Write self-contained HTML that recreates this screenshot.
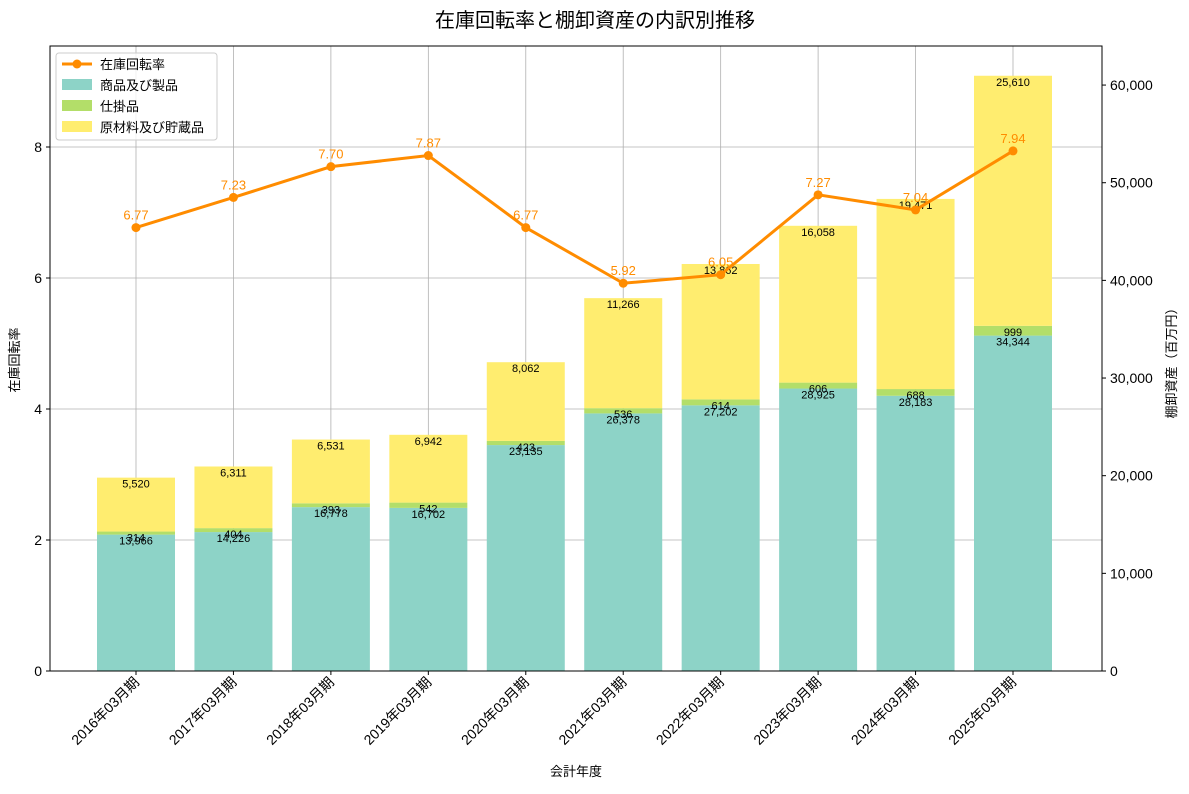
<!DOCTYPE html>
<html><head><meta charset="utf-8">
<style>
body{margin:0;background:#fff;}
svg text{font-family:"Liberation Sans","Noto Sans CJK JP",sans-serif;}
</style></head>
<body>
<svg id="chart" width="1189" height="789" xmlns="http://www.w3.org/2000/svg">
<text x="595" y="27" text-anchor="middle" font-size="20">在庫回転率と棚卸資産の内訳別推移</text>
<g id="grid"></g>
<g id="bars"></g>
<g id="line"></g>
<g id="axes"></g>
<text transform="translate(19,360) rotate(-90)" text-anchor="middle" font-size="13">在庫回転率</text>
<text transform="translate(1176,360) rotate(-90)" text-anchor="middle" font-size="13">棚卸資産（百万円）</text>
<text x="576" y="776" text-anchor="middle" font-size="13">会計年度</text>
<g>
<rect x="56" y="53" width="161" height="87" fill="#fff" fill-opacity="0.8" stroke="#ccc" rx="3"/>
<line x1="62" y1="64" x2="92" y2="64" stroke="#ff8c00" stroke-width="3"/>
<circle cx="77" cy="64" r="4.5" fill="#ff8c00"/>
<text x="100" y="69" font-size="13">在庫回転率</text>
<rect x="62" y="79" width="30" height="11" fill="#8dd3c7"/>
<text x="100" y="90" font-size="13">商品及び製品</text>
<rect x="62" y="100" width="30" height="11" fill="#b3de69"/>
<text x="100" y="111" font-size="13">仕掛品</text>
<rect x="62" y="121" width="30" height="11" fill="#ffed6f"/>
<text x="100" y="132" font-size="13">原材料及び貯蔵品</text>
</g>
</svg>
<script>
const categories=["2016年03月期","2017年03月期","2018年03月期","2019年03月期","2020年03月期","2021年03月期","2022年03月期","2023年03月期","2024年03月期","2025年03月期"];
const products=[13966,14226,16778,16702,23135,26378,27202,28925,28183,34344];
const wip=[314,404,393,542,423,536,614,606,688,999];
const rawMaterials=[5520,6311,6531,6942,8062,11266,13862,16058,19471,25610];
const turnover=[6.77,7.23,7.70,7.87,6.77,5.92,6.05,7.27,7.04,7.94];
const leftTicks=[0,2,4,6,8];
const rightTicks=[0,10000,20000,30000,40000,50000,60000];

const L=50,R=1102,T=46,B=671;
const NS="http://www.w3.org/2000/svg";
const yL=v=>B-(v/9.542)*(B-T);
const yR=v=>B-(v/64000)*(B-T);
const step=(1013-136)/9;
const xC=i=>136+i*step;
const bw=78;
function mk(tag,attrs,parent,text){const e=document.createElementNS(NS,tag);for(const k in attrs)e.setAttribute(k,attrs[k]);if(text!==undefined)e.textContent=text;parent.appendChild(e);return e;}
const fmt=v=>v.toLocaleString('en-US');
const grid=document.getElementById('grid'),bars=document.getElementById('bars'),line=document.getElementById('line'),axes=document.getElementById('axes');

leftTicks.forEach(v=>{
 const g=mk('line',{x1:L,x2:R,y1:yL(v),y2:yL(v),stroke:'#b0b0b0','stroke-width':0.8},grid);
 
 
 mk('line',{x1:L-4,x2:L,y1:yL(v),y2:yL(v),stroke:'#000'},axes);
 const t=mk('text',{x:L-8,y:yL(v)+5,'text-anchor':'end','font-size':14},axes,String(v));
 
 
});
rightTicks.forEach(v=>{
 mk('line',{x1:R,x2:R+4,y1:yR(v),y2:yR(v),stroke:'#000'},axes);
 const t=mk('text',{x:R+8,y:yR(v)+5,'font-size':14},axes,fmt(v));
 
 
});
categories.forEach((c,i)=>{
 const x=xC(i);
 const p=products[i],w=wip[i],r=rawMaterials[i];
 const segs=[[0,p,'#8dd3c7','bar-products'],[p,p+w,'#b3de69','bar-wip'],[p+w,p+w+r,'#ffed6f','bar-raw-materials']];
 segs.forEach(s=>{
  const b=mk('rect',{x:x-bw/2,y:yR(s[1]),width:bw,height:yR(s[0])-yR(s[1]),fill:s[2]},bars);
  
  
 });
 [[p,p],[p+w,w],[p+w+r,r]].forEach(s=>{
  const t=mk('text',{x:x,y:yR(s[0])+10,'text-anchor':'middle','font-size':11},bars,fmt(s[1]));
  
  
 });
 const g=mk('line',{x1:x,x2:x,y1:T,y2:B,stroke:'#b0b0b0','stroke-width':0.8},grid);
 
 
 mk('line',{x1:x,x2:x,y1:B,y2:B+4,stroke:'#000'},axes);
 const t=mk('text',{transform:`translate(${x+4},${B+12}) rotate(-45)`,'text-anchor':'end','font-size':14},axes,c);
 
 
});
const pts=turnover.map((v,i)=>xC(i)+','+yL(v)).join(' ');
const pl=mk('polyline',{points:pts,fill:'none',stroke:'#ff8c00','stroke-width':3},line);


turnover.forEach((v,i)=>{
 const c=mk('circle',{cx:xC(i),cy:yL(v),r:4.5,fill:'#ff8c00'},line);
 
 
 const t=mk('text',{x:xC(i),y:yL(v)-8,'text-anchor':'middle','font-size':13,fill:'#ff8c00'},line,v.toFixed(2));
 
 
});
const frame=mk('rect',{x:L,y:T,width:R-L,height:B-T,fill:'none',stroke:'#000','stroke-width':1},axes);


</script>
</body></html>
